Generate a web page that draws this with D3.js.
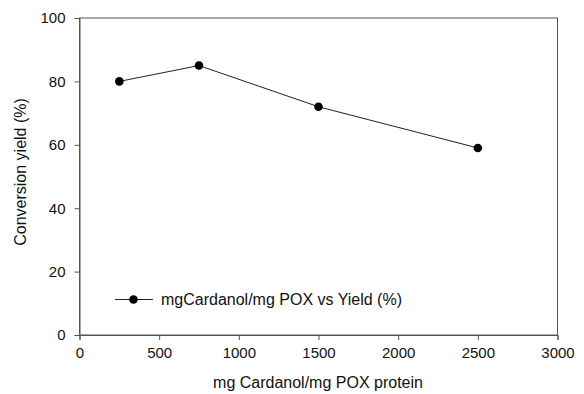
<!DOCTYPE html>
<html>
<head>
<meta charset="utf-8">
<script src="https://cdn.jsdelivr.net/npm/d3@7"></script>
<style>
  html, body { margin: 0; padding: 0; background: #fff; }
  svg { display: block; }
  text { font-family: Arial, "Liberation Sans", sans-serif; fill: #111; }
</style>
</head>
<body>
<svg id="chart" width="584" height="394"></svg>
<script>
// Cardanol loading vs conversion yield
const ratios = [250, 750, 1500, 2500];
const yields = [80, 85, 72, 59];
const xTicks = [0, 500, 1000, 1500, 2000, 2500, 3000];
const yTicks = [0, 20, 40, 60, 80, 100];
const seriesName = "mgCardanol/mg POX vs Yield (%)";
const xTitle = "mg Cardanol/mg POX protein";
const yTitle = "Conversion yield (%)";

const svg = d3.select("#chart");
const m = { left: 79.5, right: 557.5, top: 18, bottom: 335 };

const x = d3.scaleLinear().domain([0, 3000]).range([m.left, m.right]);
const y = d3.scaleLinear().domain([0, 100]).range([m.bottom, m.top]);

// frame
svg.append("rect")
  .attr("x", m.left).attr("y", m.top)
  .attr("width", m.right - m.left).attr("height", m.bottom - m.top)
  .attr("fill", "none").attr("stroke", "#555").attr("stroke-width", 1);

const xAxis = svg.append("g")
  .attr("transform", `translate(0,${m.bottom})`)
  .call(d3.axisBottom(x).tickValues(xTicks).tickFormat(d3.format("d")).tickSize(5).tickPadding(7));
const yAxis = svg.append("g")
  .attr("transform", `translate(${m.left},0)`)
  .call(d3.axisLeft(y).tickValues(yTicks).tickSize(5).tickPadding(9));

[xAxis, yAxis].forEach(g => {
  g.select(".domain").attr("stroke", "#555");
  g.selectAll(".tick line").attr("stroke", "#555");
  g.selectAll(".tick text").attr("font-size", 15).attr("fill", "#111")
    .attr("font-family", "Arial, 'Liberation Sans', sans-serif");
});

// axis titles
svg.append("text")
  .attr("x", 318).attr("y", 388)
  .attr("text-anchor", "middle").attr("font-size", 16)
  .text(xTitle);
svg.append("text")
  .attr("transform", "translate(26,172) rotate(-90)")
  .attr("text-anchor", "middle").attr("font-size", 16)
  .text(yTitle);

// series
const pts = ratios.map((r, i) => [r, yields[i]]);
svg.append("path")
  .datum(pts)
  .attr("fill", "none").attr("stroke", "#222").attr("stroke-width", 1)
  .attr("d", d3.line().x(d => x(d[0])).y(d => y(d[1])));
svg.selectAll("circle.pt")
  .data(pts).join("circle")
  .attr("class", "pt")
  .attr("cx", d => x(d[0])).attr("cy", d => y(d[1]))
  .attr("r", 4.3).attr("fill", "#000");

// legend
const ly = 299.5;
svg.append("line")
  .attr("x1", 115).attr("x2", 153).attr("y1", ly).attr("y2", ly)
  .attr("stroke", "#222").attr("stroke-width", 1);
svg.append("circle").attr("cx", 133.5).attr("cy", ly).attr("r", 4.3).attr("fill", "#000");
svg.append("text")
  .attr("x", 161).attr("y", ly + 5.5)
  .attr("font-size", 16)
  .text(seriesName);
</script>
</body>
</html>
